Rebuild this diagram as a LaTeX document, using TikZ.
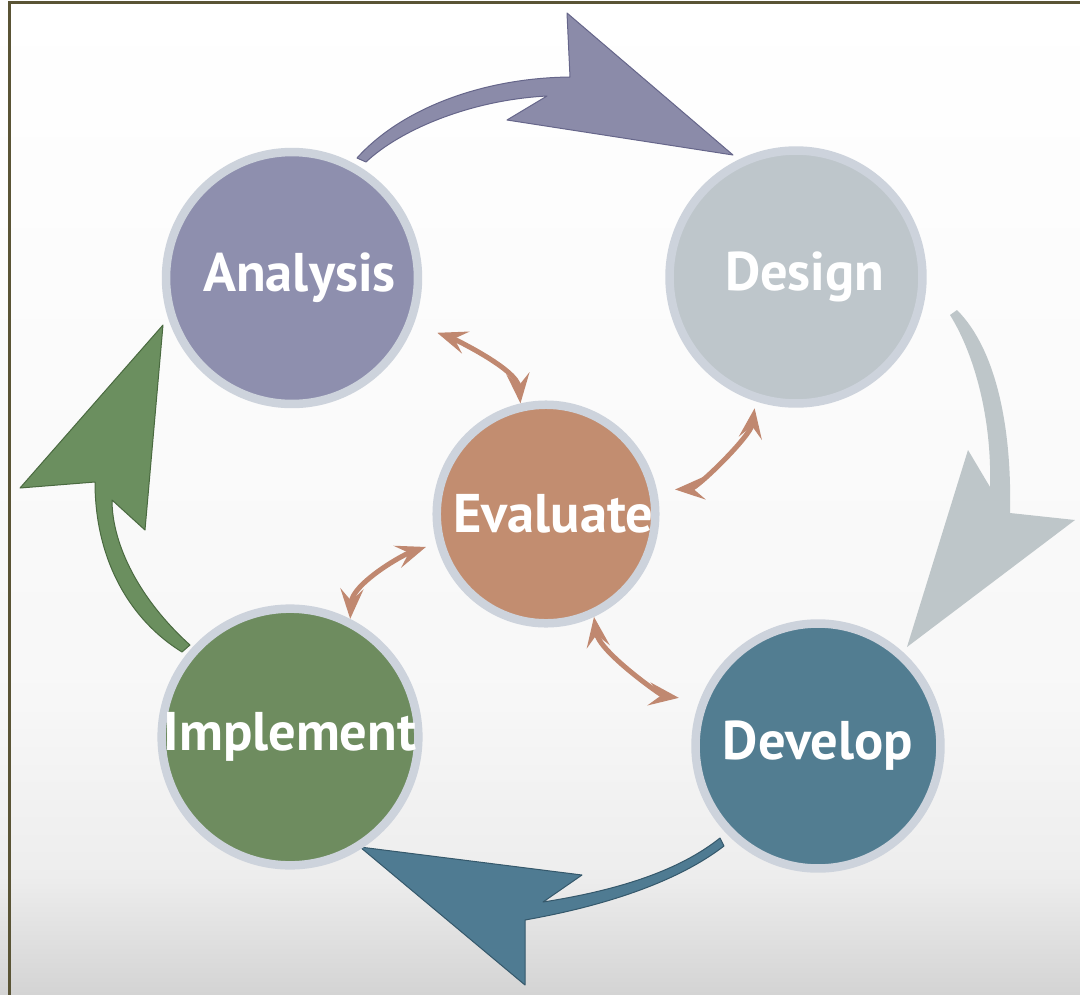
\documentclass[tikz,border=0pt]{standalone}
\usepackage{fontspec}
\setmainfont{PT Sans}
\usetikzlibrary{arrows.meta}
\definecolor{cAna}{HTML}{8E8FAE}
\definecolor{cDes}{HTML}{BEC6CB}
\definecolor{cEva}{HTML}{C28D70}
\definecolor{cImp}{HTML}{6E8C5F}
\definecolor{cDev}{HTML}{527D91}
\definecolor{rim}{HTML}{CDD3DC}
\definecolor{aTop}{HTML}{8B8BA9}
\definecolor{aTopE}{HTML}{66668A}
\definecolor{aRight}{HTML}{BEC6C9}
\definecolor{aBot}{HTML}{4F7B92}
\definecolor{aBotE}{HTML}{35586B}
\definecolor{aLeft}{HTML}{6B8F5F}
\definecolor{aLeftE}{HTML}{4A6A40}
\definecolor{aEva}{HTML}{C08870}
\definecolor{frame}{HTML}{5A5435}
\pgfdeclareverticalshading{bgshade}{100bp}{color(0bp)=(black!17); color(25bp)=(black!17); color(31bp)=(black!7); color(40bp)=(black!3); color(75bp)=(white); color(100bp)=(white)}
\begin{document}
\begin{tikzpicture}[x=0.02cm,y=-0.02cm,
  phase/.style={circle, draw=rim, line width=0.17cm, inner sep=0pt, text=white,
    font=\bfseries\fontsize{31}{36}\selectfont},
  twoway/.style={draw=aEva, line width=0.1cm, <->,
    >={Stealth[length=0.6cm,width=0.46cm,inset=0.24cm]}},
  bigarrow/.style={line width=0.02cm, line join=round}]
\useasboundingbox (0,0) rectangle (1080,995);
\shade[shading=bgshade] (0,0) rectangle (1080,995);
\draw[frame, line width=0.06cm] (9.5,995) -- (9.5,2) -- (1080,2);

% big cycle arrows
\filldraw[bigarrow, fill=aTop, draw=aTopE]
  (567,13) -- (733,155) -- (507,120) -- (547,96)
  .. controls (470,100) and (400,130) .. (366,162) -- (357,158)
  .. controls (400,110) and (480,78) .. (570,77) -- cycle;
\fill[aRight]
  (907,647) -- (968,450) -- (990,487)
  .. controls (992,420) and (975,355) .. (950,315) -- (957,310)
  .. controls (997,350) and (1012,430) .. (1010,513) -- (1075,520) -- cycle;
\filldraw[bigarrow, fill=aBot, draw=aBotE]
  (360,847) -- (582,875) -- (543,902)
  .. controls (620,890) and (680,870) .. (720,838) -- (724,846)
  .. controls (680,880) and (610,905) .. (525,920) -- (525,985) -- cycle;
\filldraw[bigarrow, fill=aLeft, draw=aLeftE]
  (163,325) -- (20,488) -- (95,482)
  .. controls (95,560) and (130,620) .. (182,652) -- (190,645)
  .. controls (140,600) and (112,545) .. (112,500) -- (145,530) -- cycle;

% phases
\node[phase, fill=cAna, minimum size=5.04cm] (ana) at (292,278) {\hspace*{0.3cm}Analysis};
\node[phase, fill=cDes, minimum size=5.06cm] (des) at (796,277) {\hspace*{0.35cm}Design};
\node[phase, fill=cEva, minimum size=4.30cm] (eva) at (546,514) {\hspace*{0.3cm}Evaluate};
\node[phase, fill=cImp, minimum size=4.98cm] (imp) at (290,737) {Implement};
\node[phase, fill=cDev, minimum size=4.90cm] (dev) at (818,746) {Develop};

% evaluate links
\draw[twoway, shorten <=0.5cm] (ana.-21) .. controls +(35,12) and +(-3,-35) .. (eva.103);
\draw[twoway, shorten <=0.36cm, shorten >=0.14cm] (eva.12) .. controls +(40,-2) and +(-5,35) .. (des.252);
\draw[twoway, shorten <=0.22cm] (eva.195) .. controls +(-35,12) and +(2,-35) .. (imp.63);
\draw[twoway, shorten >=0.42cm] (eva.-65) .. controls +(5,35) and +(-38,-5) .. (dev.159);
\end{tikzpicture}
\end{document}
